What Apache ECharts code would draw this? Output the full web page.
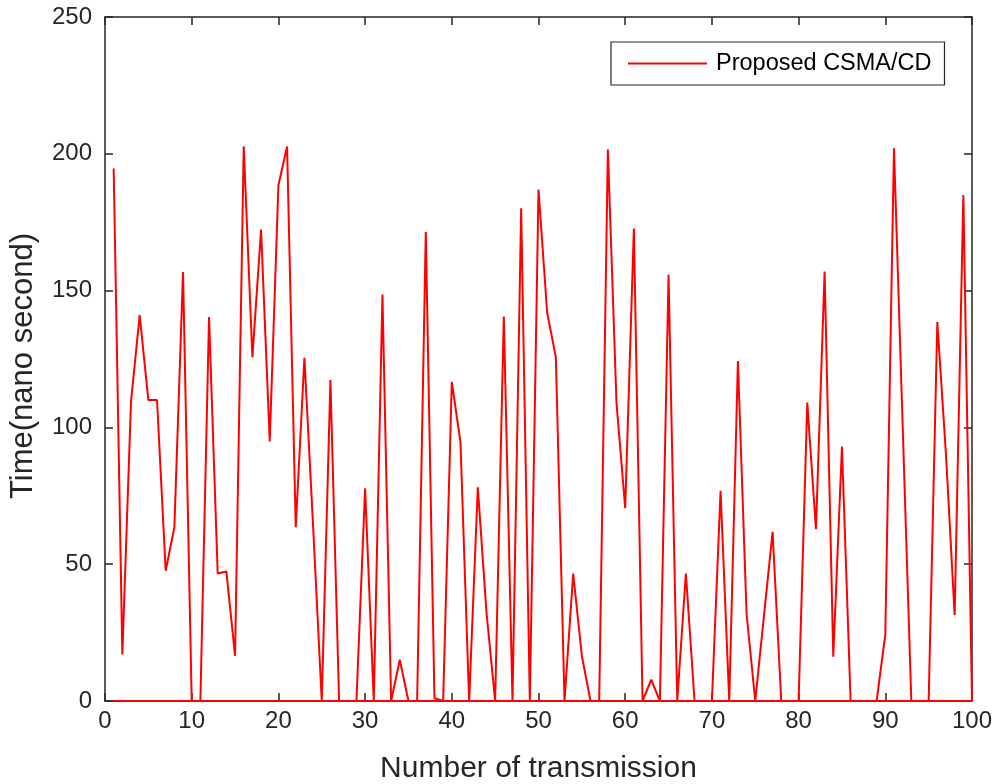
<!DOCTYPE html>
<html>
<head>
<meta charset="utf-8">
<script src="https://cdn.jsdelivr.net/npm/echarts@6/dist/echarts.min.js"></script>
<style>
html,body{margin:0;padding:0;background:#fff;}
#chart{width:998px;height:784px;}
</style>
</head>
<body>
<div id="chart"></div>
<script>
// x positions (transmission number)
const transmissions = [1,2,3,4,5,6,7,8,9,10,11,12,13,14,15,16,17,18,19,20,21,22,23,24,25,26,27,28,29,30,31,32,33,34,35,36,37,38,39,40,41,42,43,44,45,46,47,48,49,50,51,52,53,54,55,56,57,58,59,60,61,62,63,64,65,66,67,68,69,70,71,72,73,74,75,76,77,78,79,80,81,82,83,84,85,86,87,88,89,90,91,92,93,94,95,96,97,98,99,100];
// Time (nano second) for Proposed CSMA/CD
const timeValues = [194.6,17,109.5,141,110,110,47.6,63.5,156.8,0,
  0,140.3,46.6,47.3,16.5,202.7,125.7,172.3,94.9,188.5,
  202.7,63.5,125.4,64,0,117.3,0,0,0,77.7,
  0,148.6,0,15.1,0,0,171.4,1,0,116.6,
  94.6,0,78.1,32.4,0,140.5,0,180.1,0,186.9,
  141.9,125.7,0,46.6,16.5,0,0,201.6,108.8,70.5,
  172.7,0,7.8,0,155.8,0,46.6,0,0,0,
  76.8,0,124.3,31.8,0,31,61.8,0,0,0,
  109.1,62.8,157,16.2,93,0,0,0,0,24.3,
  202,101,0,0,0,138.5,90,31.4,184.9,0];
// baseline drawn along zero
const baselineValues = transmissions.map(() => 0);
const seriesName = 'Proposed CSMA/CD';
const xTicks = {min: 0, max: 100, interval: 10};
const yTicks = {min: 0, max: 250, interval: 50};

const axisColor = '#262626';
const font = 'Liberation Sans, Arial, sans-serif';

const mainData = transmissions.map((x, i) => [x, timeValues[i]]);
const baseData = transmissions.map((x, i) => [x, baselineValues[i]]);

const chart = echarts.init(document.getElementById('chart'), null, {renderer: 'canvas'});

const commonAxisLine = {show: true, onZero: false, lineStyle: {color: axisColor, width: 1.5}};
const commonTick = {show: true, inside: true, length: 8, lineStyle: {color: axisColor, width: 1.5}};

chart.setOption({
  animation: false,
  backgroundColor: '#ffffff',
  grid: {left: 105, top: 17, width: 867, height: 684, containLabel: false, outerBoundsMode: 'none'},
  legend: {
    data: [{name: seriesName}],
    left: 611, top: 42,
    orient: 'horizontal',
    icon: 'rect',
    itemWidth: 79, itemHeight: 2,
    itemGap: 8,
    borderColor: axisColor, borderWidth: 1.2,
    padding: [9, 13, 9, 17],
    backgroundColor: '#fff',
    textStyle: {fontFamily: font, fontSize: 23.5, color: '#000', lineHeight: 25, padding: [0, 0, 0, 4]}
  },
  xAxis: [{
    type: 'value', position: 'bottom',
    min: xTicks.min, max: xTicks.max, interval: xTicks.interval,
    name: 'Number of transmission', nameLocation: 'middle', nameGap: 53,
    nameTextStyle: {fontFamily: font, fontSize: 30, color: axisColor},
    axisLine: commonAxisLine, axisTick: commonTick,
    axisLabel: {margin: 8, fontFamily: font, fontSize: 24, color: axisColor},
    splitLine: {show: false}
  }, {
    type: 'value', position: 'top',
    min: xTicks.min, max: xTicks.max, interval: xTicks.interval,
    axisLine: commonAxisLine, axisTick: commonTick,
    axisLabel: {show: false}, splitLine: {show: false}
  }],
  yAxis: [{
    type: 'value', position: 'left',
    min: yTicks.min, max: yTicks.max, interval: yTicks.interval,
    name: 'Time(nano second)', nameLocation: 'middle', nameGap: 66, nameRotate: 90,
    nameTextStyle: {fontFamily: font, fontSize: 31, color: axisColor, padding: [0, 14, 0, 0]},
    axisLine: commonAxisLine, axisTick: commonTick,
    axisLabel: {margin: 13, fontFamily: font, fontSize: 24, color: axisColor},
    splitLine: {show: false}
  }, {
    type: 'value', position: 'right',
    min: yTicks.min, max: yTicks.max, interval: yTicks.interval,
    axisLine: commonAxisLine, axisTick: commonTick,
    axisLabel: {show: false}, splitLine: {show: false}
  }],
  series: [{
    name: seriesName, type: 'line', data: mainData,
    xAxisIndex: 0, yAxisIndex: 0,
    showSymbol: false, symbol: 'none',
    lineStyle: {color: '#ff0000', width: 2},
    itemStyle: {color: '#ff0000'},
    z: 3
  }, {
    name: 'baseline', type: 'line', data: baseData,
    xAxisIndex: 0, yAxisIndex: 0,
    showSymbol: false, symbol: 'none',
    lineStyle: {color: '#ff0000', width: 2},
    itemStyle: {color: '#ff0000'},
    z: 3
  }]
});
</script>
</body>
</html>
